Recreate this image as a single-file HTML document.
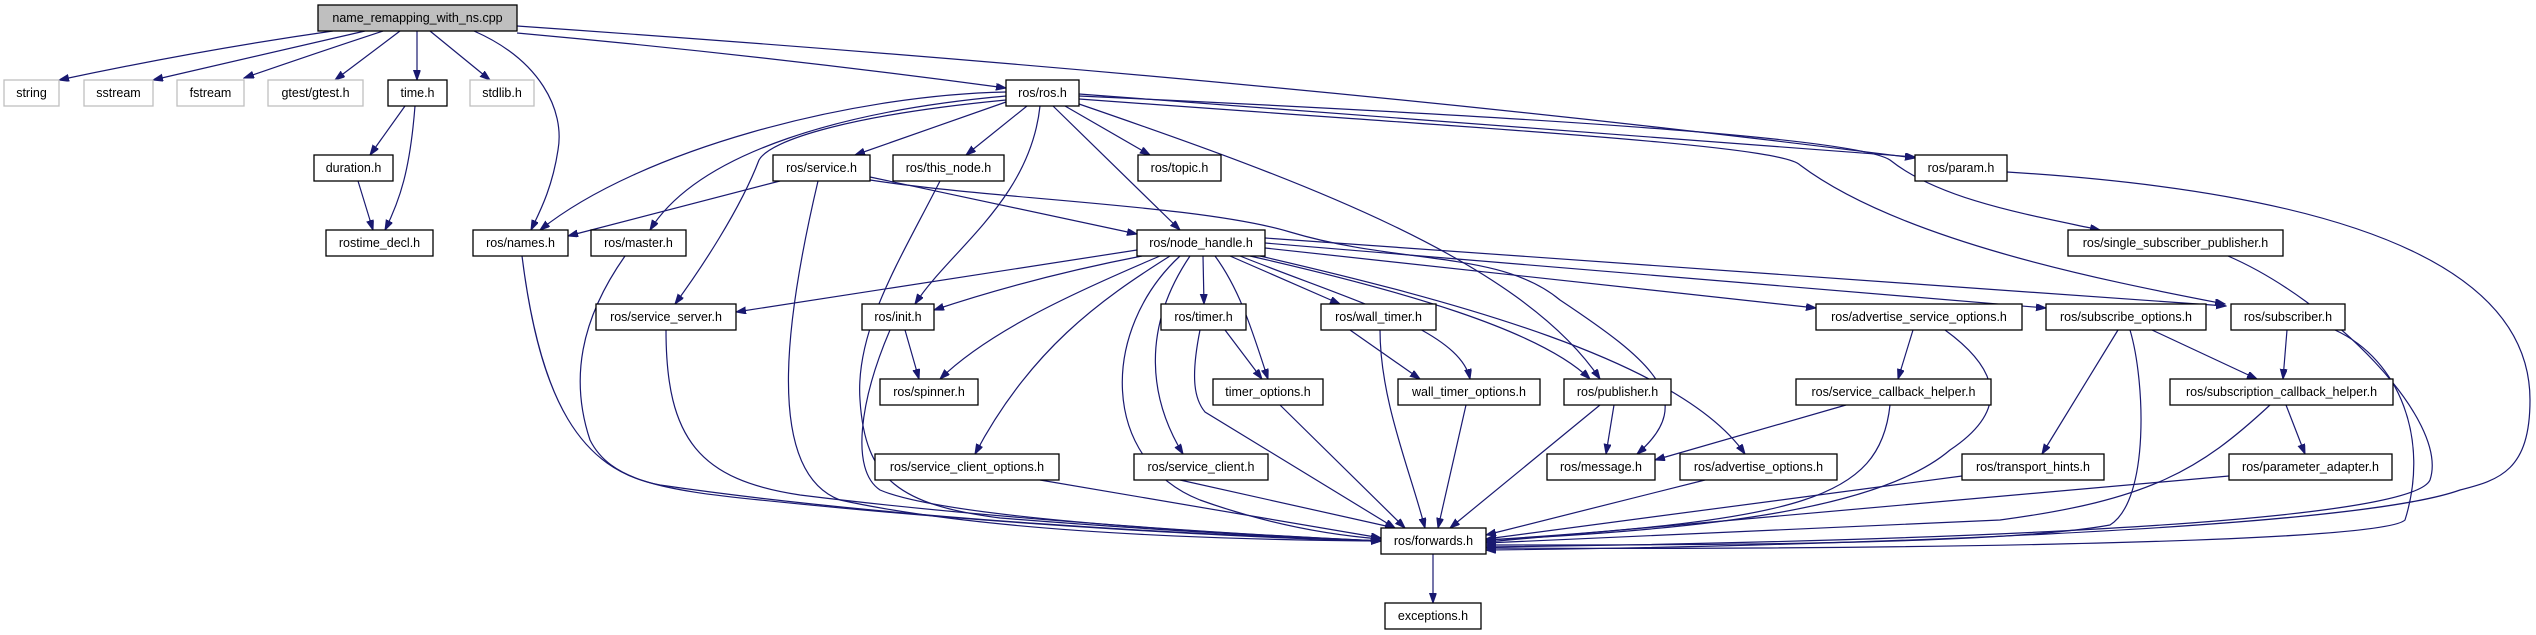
<!DOCTYPE html>
<html><head><meta charset="utf-8"><style>
html,body{margin:0;padding:0;background:#fff;}
svg{display:block;}
text{font-family:"Liberation Sans",sans-serif;font-size:12.5px;fill:#000;text-anchor:middle;}
.e{fill:none;stroke:#191970;stroke-width:1.2;marker-end:url(#a);}
.n{fill:#fff;stroke:#000;stroke-width:1.3;}
.g{fill:#fff;stroke:#bfbfbf;stroke-width:1.3;}
</style></head><body>
<svg width="2536" height="635" viewBox="0 0 2536 635" xmlns="http://www.w3.org/2000/svg">
<defs><marker id="a" markerUnits="userSpaceOnUse" markerWidth="11" markerHeight="8" refX="10" refY="3.5" orient="auto"><path d="M0,0 L10,3.5 L0,7 z" fill="#191970" stroke="#191970"/></marker></defs>
<g>
<!-- main -->
<path class="e" d="M333,31 Q200,50 59,80"/>
<path class="e" d="M365,31 Q260,55 153,80"/>
<path class="e" d="M383,31 Q310,55 244,78"/>
<path class="e" d="M400,31 L335,80"/>
<path class="e" d="M417,31 L417,80"/>
<path class="e" d="M430,31 L490,80"/>
<path class="e" d="M474,31 C540,60 565,110 558,150 C552,190 538,215 531,230"/>
<path class="e" d="M517,33 Q760,55 1006,88"/>
<path class="e" d="M517,26 Q1300,80 1915,158"/>
<!-- time -->
<path class="e" d="M405,106 L370,155"/>
<path class="e" d="M415,106 C410,170 400,200 385,230"/>
<path class="e" d="M358,181 L373,230"/>
<!-- ros.h -->
<path class="e" d="M1006,92 C850,95 640,150 540,230"/>
<path class="e" d="M1006,96 C850,110 700,150 650,230"/>
<path class="e" d="M1006,100 C850,115 770,140 759,160 C740,210 700,270 675,304"/>
<path class="e" d="M1006,102 L855,155"/>
<path class="e" d="M1027,106 L966,155"/>
<path class="e" d="M1040,106 C1030,200 950,250 915,304"/>
<path class="e" d="M1053,106 L1180,230"/>
<path class="e" d="M1065,106 L1150,155"/>
<path class="e" d="M1079,104 C1300,180 1520,260 1600,379"/>
<path class="e" d="M1079,94 L1915,157"/>
<path class="e" d="M1079,96 C1600,120 1860,140 1890,160 C1940,200 2030,215 2100,230"/>
<path class="e" d="M1079,99 C1500,130 1780,145 1800,165 C1900,240 2100,280 2225,304"/>
<!-- service.h -->
<path class="e" d="M780,181 L568,236"/>
<path class="e" d="M870,177 L1137,234"/>
<path class="e" d="M818,181 C790,300 760,470 840,500 C1000,535 1250,540 1381,541"/>
<path class="e" d="M870,180 C1000,200 1200,205 1290,232 C1400,265 1500,250 1560,300 C1650,360 1700,400 1637,454"/>
<!-- misc to forwards left -->
<path class="e" d="M940,181 C900,260 855,330 860,400 C865,480 900,505 1000,518 C1150,530 1300,538 1381,541"/>
<path class="e" d="M522,256 C540,400 580,470 660,485 C900,520 1200,535 1381,541"/>
<path class="e" d="M625,256 C580,320 570,380 590,440 C610,480 660,490 760,500 C1000,525 1250,538 1381,541"/>
<path class="e" d="M666,330 C666,440 700,480 800,495 C1000,520 1250,535 1381,541"/>
<path class="e" d="M890,330 C860,400 850,470 880,490 C950,520 1250,535 1381,541"/>
<path class="e" d="M1180,256 C1100,330 1100,460 1200,500 C1270,525 1330,535 1381,539"/>
<path class="e" d="M1040,480 L1381,538"/>
<path class="e" d="M1180,480 L1395,528"/>
<path class="e" d="M1200,330 C1190,380 1195,400 1205,412 L1395,528"/>
<path class="e" d="M1280,405 L1405,528"/>
<path class="e" d="M1380,330 C1380,400 1410,470 1425,528"/>
<path class="e" d="M1466,405 L1438,528"/>
<path class="e" d="M1600,405 L1450,528"/>
<path class="e" d="M1614,405 L1606,454"/>
<path class="e" d="M1846,405 L1655,460"/>
<path class="e" d="M1890,405 C1880,500 1800,520 1486,540"/>
<path class="e" d="M1913,330 L1898,379"/>
<path class="e" d="M1945,330 C2000,370 2010,410 1950,450 C1880,510 1700,530 1486,540"/>
<path class="e" d="M1705,480 L1486,535"/>
<path class="e" d="M1962,476 L1486,539"/>
<path class="e" d="M2118,330 L2042,454"/>
<path class="e" d="M2152,330 L2257,379"/>
<path class="e" d="M2130,330 C2145,380 2150,500 2110,525 C2000,545 1700,545 1486,545"/>
<path class="e" d="M2287,330 L2283,379"/>
<path class="e" d="M2335,330 C2400,360 2430,440 2405,520 C2380,545 1800,550 1486,548"/>
<path class="e" d="M2286,405 L2305,454"/>
<path class="e" d="M2270,405 C2200,470 2150,500 2000,520 L1486,543"/>
<path class="e" d="M2229,476 L1486,542"/>
<path class="e" d="M2228,256 C2330,300 2450,420 2430,480 C2410,525 1900,542 1486,547"/>
<path class="e" d="M2007,172 C2300,190 2530,250 2530,400 C2530,470 2500,480 2460,490 C2350,530 1800,547 1486,550"/>
<path class="e" d="M1433,554 L1433,603"/>
<!-- node_handle -->
<path class="e" d="M1137,250 L736,312"/>
<path class="e" d="M1142,256 C1070,270 1000,288 934,310"/>
<path class="e" d="M905,330 L919,379"/>
<path class="e" d="M1160,256 C1080,290 990,330 940,379"/>
<path class="e" d="M1170,256 C1100,300 1030,350 975,454"/>
<path class="e" d="M1203,256 L1204,304"/>
<path class="e" d="M1215,256 C1240,290 1252,330 1268,379"/>
<path class="e" d="M1190,256 C1140,330 1150,400 1183,454"/>
<path class="e" d="M1230,256 L1340,304"/>
<path class="e" d="M1240,256 C1350,300 1460,330 1470,379"/>
<path class="e" d="M1250,256 C1400,290 1540,330 1590,379"/>
<path class="e" d="M1260,256 C1450,300 1680,360 1745,454"/>
<path class="e" d="M1265,248 L1816,308"/>
<path class="e" d="M1265,243 L2046,308"/>
<path class="e" d="M1265,238 L2226,306"/>
<path class="e" d="M1225,330 L1262,379"/>
<path class="e" d="M1350,330 L1420,379"/>
</g>
<g>
<rect x="318" y="5" width="199" height="26" fill="#bfbfbf" stroke="#000" stroke-width="1.3"/><text x="417.5" y="22">name_remapping_with_ns.cpp</text>
<rect class="g" x="4" y="80" width="55" height="26"/><text x="31.5" y="97">string</text>
<rect class="g" x="84" y="80" width="69" height="26"/><text x="118.5" y="97">sstream</text>
<rect class="g" x="177" y="80" width="67" height="26"/><text x="210.5" y="97">fstream</text>
<rect class="g" x="268" y="80" width="95" height="26"/><text x="315.5" y="97">gtest/gtest.h</text>
<rect class="n" x="388" y="80" width="59" height="26"/><text x="417.5" y="97">time.h</text>
<rect class="g" x="470" y="80" width="64" height="26"/><text x="502" y="97">stdlib.h</text>
<rect class="n" x="1006" y="80" width="73" height="26"/><text x="1042.5" y="97">ros/ros.h</text>
<rect class="n" x="314" y="155" width="79" height="26"/><text x="353.5" y="172">duration.h</text>
<rect class="n" x="773" y="155" width="97" height="26"/><text x="821.5" y="172">ros/service.h</text>
<rect class="n" x="893" y="155" width="111" height="26"/><text x="948.5" y="172">ros/this_node.h</text>
<rect class="n" x="1138" y="155" width="83" height="26"/><text x="1179.5" y="172">ros/topic.h</text>
<rect class="n" x="1915" y="155" width="92" height="26"/><text x="1961" y="172">ros/param.h</text>
<rect class="n" x="326" y="230" width="107" height="26"/><text x="379.5" y="247">rostime_decl.h</text>
<rect class="n" x="473" y="230" width="95" height="26"/><text x="520.5" y="247">ros/names.h</text>
<rect class="n" x="591" y="230" width="95" height="26"/><text x="638.5" y="247">ros/master.h</text>
<rect class="n" x="1137" y="230" width="128" height="26"/><text x="1201" y="247">ros/node_handle.h</text>
<rect class="n" x="2068" y="230" width="215" height="26"/><text x="2175.5" y="247">ros/single_subscriber_publisher.h</text>
<rect class="n" x="596" y="304" width="140" height="26"/><text x="666" y="321">ros/service_server.h</text>
<rect class="n" x="862" y="304" width="72" height="26"/><text x="898" y="321">ros/init.h</text>
<rect class="n" x="1161" y="304" width="85" height="26"/><text x="1203.5" y="321">ros/timer.h</text>
<rect class="n" x="1321" y="304" width="115" height="26"/><text x="1378.5" y="321">ros/wall_timer.h</text>
<rect class="n" x="1816" y="304" width="206" height="26"/><text x="1919" y="321">ros/advertise_service_options.h</text>
<rect class="n" x="2046" y="304" width="160" height="26"/><text x="2126" y="321">ros/subscribe_options.h</text>
<rect class="n" x="2231" y="304" width="114" height="26"/><text x="2288" y="321">ros/subscriber.h</text>
<rect class="n" x="880" y="379" width="98" height="26"/><text x="929" y="396">ros/spinner.h</text>
<rect class="n" x="1213" y="379" width="110" height="26"/><text x="1268" y="396">timer_options.h</text>
<rect class="n" x="1398" y="379" width="142" height="26"/><text x="1469" y="396">wall_timer_options.h</text>
<rect class="n" x="1564" y="379" width="107" height="26"/><text x="1617.5" y="396">ros/publisher.h</text>
<rect class="n" x="1796" y="379" width="195" height="26"/><text x="1893.5" y="396">ros/service_callback_helper.h</text>
<rect class="n" x="2170" y="379" width="223" height="26"/><text x="2281.5" y="396">ros/subscription_callback_helper.h</text>
<rect class="n" x="875" y="454" width="184" height="26"/><text x="967" y="471">ros/service_client_options.h</text>
<rect class="n" x="1134" y="454" width="134" height="26"/><text x="1201" y="471">ros/service_client.h</text>
<rect class="n" x="1547" y="454" width="108" height="26"/><text x="1601" y="471">ros/message.h</text>
<rect class="n" x="1680" y="454" width="157" height="26"/><text x="1758.5" y="471">ros/advertise_options.h</text>
<rect class="n" x="1962" y="454" width="142" height="26"/><text x="2033" y="471">ros/transport_hints.h</text>
<rect class="n" x="2229" y="454" width="163" height="26"/><text x="2310.5" y="471">ros/parameter_adapter.h</text>
<rect class="n" x="1381" y="528" width="105" height="26"/><text x="1433.5" y="545">ros/forwards.h</text>
<rect class="n" x="1385" y="603" width="96" height="26"/><text x="1433" y="620">exceptions.h</text>
</g>
</svg>
</body></html>
